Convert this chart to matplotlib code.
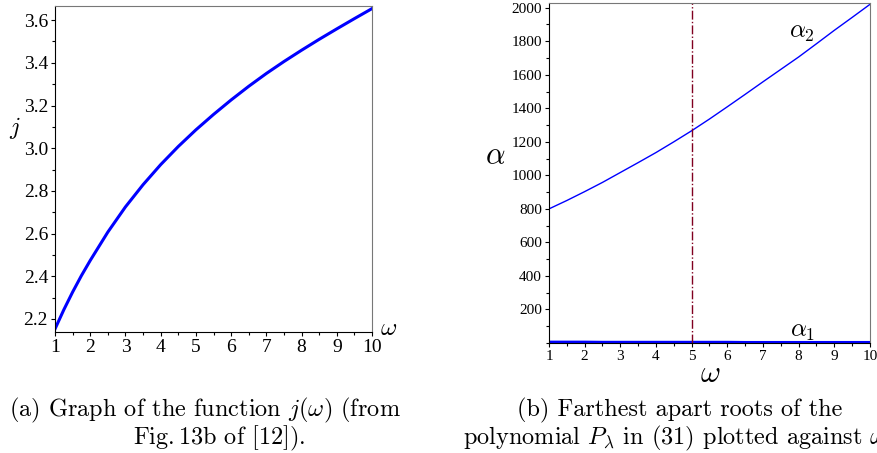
import matplotlib
matplotlib.use('Agg')
import matplotlib.pyplot as plt
from matplotlib.ticker import MultipleLocator, FormatStrFormatter

plt.rcParams['mathtext.fontset'] = 'cm'
plt.rcParams['font.family'] = ['Liberation Serif', 'DejaVu Serif']

# (a) j(omega), valores
w_a = [1, 1.25, 1.5, 1.75, 2, 2.5, 3, 3.5, 4, 4.5, 5, 5.5, 6, 6.5, 7, 7.5, 8, 8.5, 9, 9.5, 10]
j_a = [2.153, 2.243, 2.326, 2.403, 2.474, 2.607, 2.725, 2.829, 2.923, 3.008, 3.086, 3.158,
       3.226, 3.290, 3.350, 3.406, 3.459, 3.510, 3.559, 3.607, 3.654]

# (b) raízes alpha_1 e alpha_2
w_b = [1, 1.5, 2, 2.5, 3, 3.5, 4, 4.5, 5, 5.5, 6, 6.5, 7, 7.5, 8, 8.5, 9, 9.5, 10]
alpha2 = [800, 850, 903, 958, 1017, 1076, 1136, 1200, 1266, 1336, 1409, 1483, 1558,
          1632, 1706, 1785, 1865, 1942, 2020]
alpha1 = [6, 6, 6, 5, 5, 5, 5, 5, 5, 5, 5, 4, 4, 4, 4, 4, 4, 4, 4]
w_linha = 5

fig = plt.figure(figsize=(8.77, 4.53), dpi=100)

def estilo(ax, fs):
    ax.tick_params(direction='out', length=3, width=0.8, labelsize=fs, pad=2)
    ax.tick_params(which='minor', direction='out', length=2, width=0.8)
    for s in ['top', 'right']:
        ax.spines[s].set_color('#777777')
    ax.tick_params(top=False, right=False)

# painel (a)
ax1 = fig.add_axes([0.0627, 0.2671, 0.3615, 0.7196])
ax1.plot(w_a, j_a, color='#0000ff', lw=2.2)
ax1.set_xlim(1, 10)
ax1.set_ylim(2.139, 3.666)
ax1.xaxis.set_major_locator(MultipleLocator(1))
ax1.xaxis.set_minor_locator(MultipleLocator(0.5))
ax1.yaxis.set_major_locator(MultipleLocator(0.2))
ax1.yaxis.set_minor_locator(MultipleLocator(0.1))
ax1.yaxis.set_major_formatter(FormatStrFormatter('%.1f'))
estilo(ax1, 14)
fig.text(15/877, 1 - 128/453, r'$j$', fontsize=17, ha='center', va='center')
fig.text(389/877, 1 - 329/453, r'$\omega$', fontsize=18, ha='center', va='center')

# painel (b)
ax2 = fig.add_axes([0.626, 0.2428, 0.366, 0.7506])
ax2.plot(w_b, alpha2, color='#0000ff', lw=1.0)
ax2.plot(w_b, alpha1, color='#0000ff', lw=2.0)
ax2.axvline(w_linha, color='#800020', lw=1.0, linestyle='-.')
ax2.set_xlim(1, 10)
ax2.set_ylim(0, 2028)
ax2.xaxis.set_major_locator(MultipleLocator(1))
ax2.xaxis.set_minor_locator(MultipleLocator(0.5))
ax2.set_yticks([200, 400, 600, 800, 1000, 1200, 1400, 1600, 1800, 2000])
ax2.yaxis.set_minor_locator(MultipleLocator(100))
estilo(ax2, 11)
ax2.text(8.1, 1849, r'$\alpha_2$', fontsize=18, ha='center', va='center')
ax2.text(8.1, 66, r'$\alpha_1$', fontsize=18, ha='center', va='center')
fig.text(495/877, 1 - 157/453, r'$\alpha$', fontsize=22, ha='center', va='center')
fig.text(710/877, 1 - 375/453, r'$\omega$', fontsize=22, ha='center', va='center')

# legendas
cap = dict(fontsize=17.5, family='cmr10', va='center')
fig.text(205/877, 1 - 410/453, r'(a) Graph of the function $j(\omega)$ (from', ha='center', **cap)
fig.text(219/877, 1 - 438/453, r'Fig.$\,$13b of [12]).', ha='center', **cap)
fig.text(680/877, 1 - 410/453, r'(b) Farthest apart roots of the', ha='center', **cap)
fig.text(463/877, 1 - 438/453, r'polynomial $P_\lambda$ in (31) plotted against $\omega$', ha='left', **cap)

fig.savefig('out.png', dpi=100)
